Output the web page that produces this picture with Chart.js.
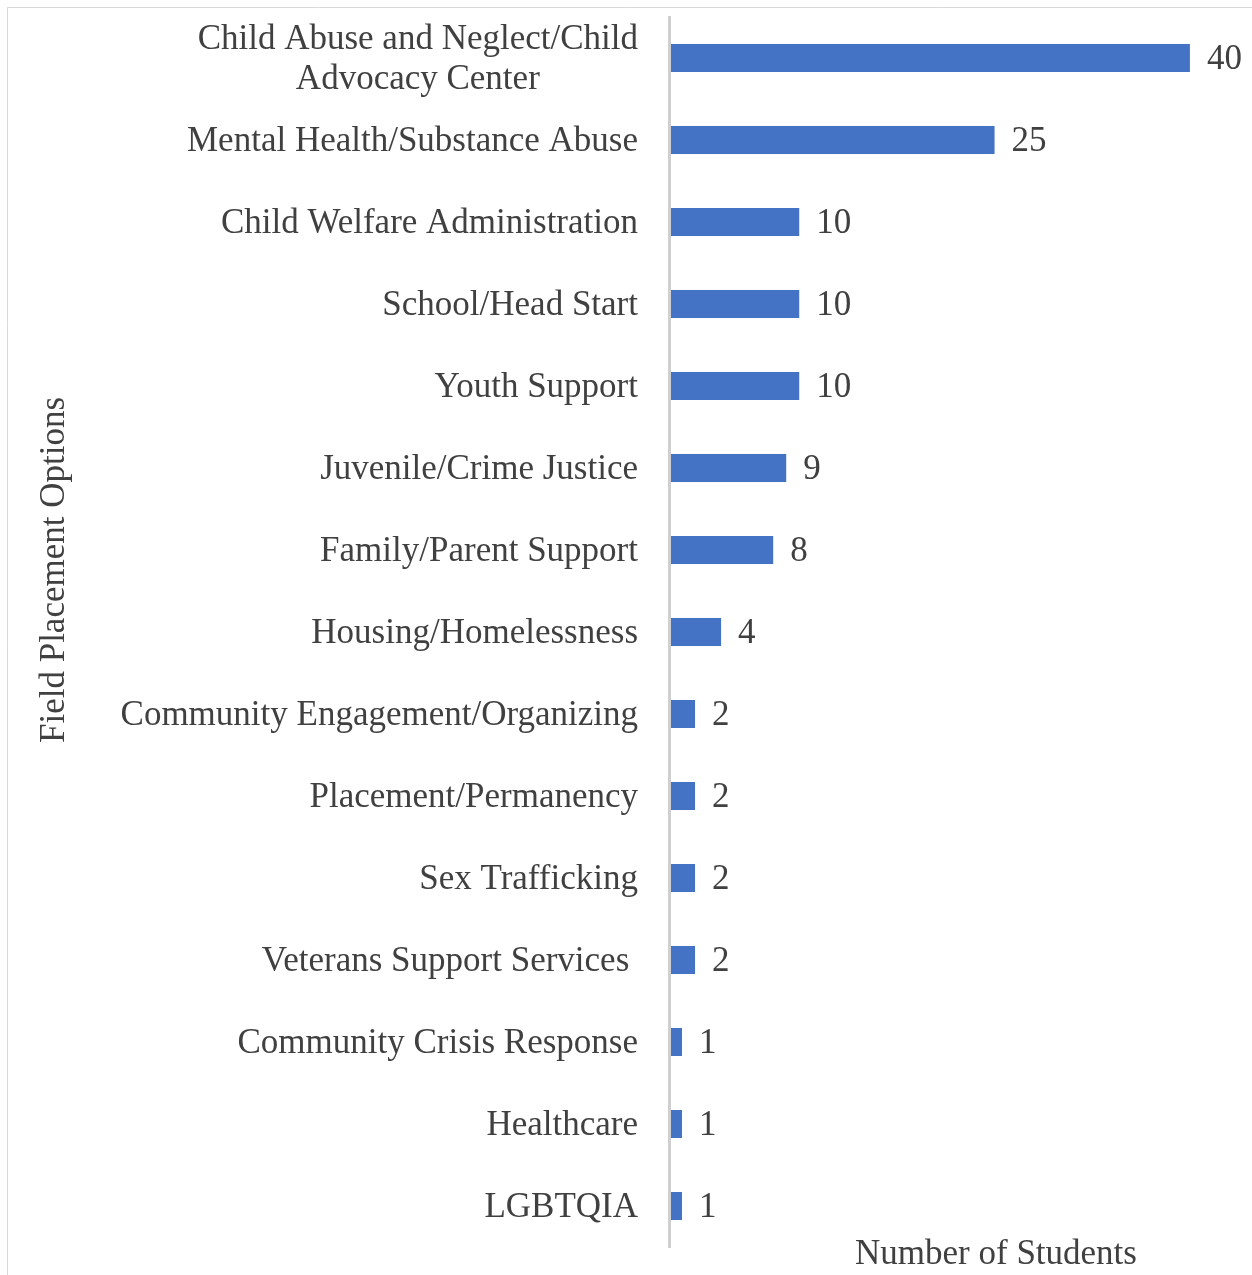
<!DOCTYPE html>
<html>
<head>
<meta charset="utf-8">
<script src="https://cdn.jsdelivr.net/npm/chart.js@4.4.1/dist/chart.umd.min.js"></script>
<style>
  html, body { margin: 0; padding: 0; background: #ffffff; }
  #wrap { position: relative; width: 1252px; height: 1275px; }
</style>
</head>
<body>
<div id="wrap"><canvas id="c" width="1252" height="1275"></canvas></div>
<script>
const categories = [
  ["Child Abuse and Neglect/Child", "Advocacy Center"],
  "Mental Health/Substance Abuse",
  "Child Welfare Administration",
  "School/Head Start",
  "Youth Support",
  "Juvenile/Crime Justice",
  "Family/Parent Support",
  "Housing/Homelessness",
  "Community Engagement/Organizing",
  "Placement/Permanency",
  "Sex Trafficking",
  "Veterans Support Services ",
  "Community Crisis Response",
  "Healthcare",
  "LGBTQIA"
];
const values = [40, 25, 10, 10, 10, 9, 8, 4, 2, 2, 2, 2, 1, 1, 1];
const yAxisTitle = "Field Placement Options";
const xAxisTitle = "Number of Students";

const FONT = '"Liberation Serif", "Times New Roman", serif';
const TEXT = '#404040';

const drawPlugin = {
  id: 'drawExtras',
  beforeDraw(chart) {
    const ctx = chart.ctx;
    ctx.save();
    ctx.fillStyle = '#ffffff';
    ctx.fillRect(0, 0, chart.width, chart.height);
    ctx.strokeStyle = '#d9d9d9';
    ctx.lineWidth = 1;
    ctx.beginPath();
    ctx.moveTo(7.5, chart.height);
    ctx.lineTo(7.5, 7.5);
    ctx.lineTo(chart.width, 7.5);
    ctx.stroke();
    ctx.restore();
  },
  afterDraw(chart) {
    const ctx = chart.ctx;
    const yS = chart.scales.y;
    ctx.save();
    ctx.fillStyle = TEXT;
    ctx.font = '35px ' + FONT;
    ctx.textBaseline = 'middle';
    const labelRight = chart.chartArea.left - 31;
    categories.forEach((lab, i) => {
      const yc = yS.getPixelForTick(i) + 2;
      if (Array.isArray(lab)) {
        const lineH = 40;
        const widths = lab.map(l => ctx.measureText(l).width);
        const maxW = Math.max(...widths);
        const cx = labelRight - maxW / 2;
        ctx.textAlign = 'center';
        lab.forEach((l, k) => {
          const y = yc - (lab.length - 1) * lineH / 2 + k * lineH;
          ctx.fillText(l, cx, y);
        });
      } else {
        ctx.textAlign = 'right';
        ctx.fillText(lab, labelRight, yc);
      }
    });
    ctx.textAlign = 'left';
    const meta = chart.getDatasetMeta(0);
    meta.data.forEach((bar, i) => {
      ctx.fillText(String(values[i]), bar.x + 17, bar.y + 2);
    });
    ctx.textAlign = 'center';
    ctx.fillText(xAxisTitle, 996, 1255);
    ctx.translate(55, 570);
    ctx.rotate(-Math.PI / 2);
    ctx.font = '35px ' + FONT;
    ctx.fillText(yAxisTitle, 0, 0);
    ctx.restore();
  }
};

new Chart(document.getElementById('c'), {
  type: 'bar',
  data: {
    labels: categories,
    datasets: [{
      data: values,
      backgroundColor: '#4472C4',
      borderWidth: 0,
      barPercentage: 0.3415,
      categoryPercentage: 1
    }]
  },
  options: {
    indexAxis: 'y',
    responsive: false,
    animation: false,
    layout: { padding: { left: 0, right: 10, top: 17, bottom: 28 } },
    plugins: { legend: { display: false }, tooltip: { enabled: false } },
    scales: {
      x: { display: false, min: 0, max: 44 },
      y: {
        grid: { display: false, drawTicks: false },
        border: { display: true, color: '#cfcfcf', width: 3, z: 1 },
        ticks: { display: false },
        afterFit: (s) => { s.width = 669; }
      }
    }
  },
  plugins: [drawPlugin]
});
</script>
</body>
</html>
